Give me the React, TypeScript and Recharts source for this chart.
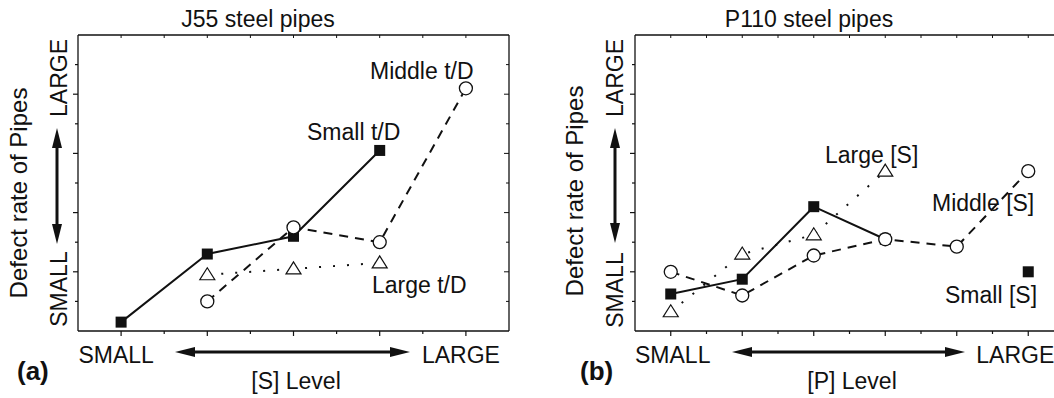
import React from 'react';
import { LineChart, Line, XAxis, YAxis } from 'recharts';

// ---------- data ----------
const leftCategories = [0, 1, 2, 3, 4];
const leftSmallTD = [0.3, 2.6, 3.2, 6.1, null];
const leftMiddleTD = [null, 1.0, 3.5, 3.0, 8.2];
const leftLargeTD = [null, 1.9, 2.1, 2.3, null];
const leftXTickLabels = ['SMALL', '', '', '', 'LARGE'];

const rightCategories = [0, 1, 2, 3, 4, 5];
const rightSmallS = [1.25, 1.75, 4.2, 3.1, null, 2.0];
const rightMiddleS = [2.0, 1.2, 2.55, 3.1, 2.85, 5.4];
const rightLargeS = [0.65, 2.6, 3.25, 5.4, null, null];
const rightXTickLabels = ['SMALL', '', '', '', '', 'LARGE'];

const yTicks = [1, 2, 3, 4, 5, 6, 7, 8, 9];

const leftData = leftCategories.map((x, i) => ({
  x,
  small: leftSmallTD[i],
  middle: leftMiddleTD[i],
  large: leftLargeTD[i],
}));
const rightData = rightCategories.map((x, i) => ({
  x,
  small: rightSmallS[i],
  middle: rightMiddleS[i],
  large: rightLargeS[i],
}));

const FONT = '"Liberation Sans", Arial, Helvetica, sans-serif';
const INK = '#111';

// ---------- markers ----------
const SquareDot = (p: any) => {
  const { cx, cy, index } = p;
  if (cx == null || cy == null || p.value == null) return <g key={`sq-${index}`} />;
  return <rect key={`sq-${index}`} x={cx - 5.5} y={cy - 5.5} width={11} height={11} fill={INK} />;
};
const CircleDot = (p: any) => {
  const { cx, cy, index } = p;
  if (cx == null || cy == null || p.value == null) return <g key={`ci-${index}`} />;
  return <circle key={`ci-${index}`} cx={cx} cy={cy} r={6.5} fill="#fff" stroke={INK} strokeWidth={1.3} />;
};
const TriDot = (p: any) => {
  const { cx, cy, index } = p;
  if (cx == null || cy == null || p.value == null) return <g key={`tr-${index}`} />;
  const pts = `${cx},${cy - 7} ${cx - 7.5},${cy + 5} ${cx + 7.5},${cy + 5}`;
  return <polygon key={`tr-${index}`} points={pts} fill="#fff" stroke={INK} strokeWidth={1.2} />;
};

// ---------- ticks ----------
const makeBottomTick = (labels: string[], dx: number[]) => (p: any) => {
  const { x, y, payload } = p;
  const v = payload.value;
  const major = Number.isInteger(v);
  const len = major ? 5 : 3;
  const label = major ? labels[v] : '';
  return (
    <g key={`bt-${v}`}>
      <line x1={x} y1={y} x2={x} y2={y + len} stroke={INK} strokeWidth={1.2} />
      {label ? (
        <text x={x + (dx[v] || 0)} y={y + 32} textAnchor="middle" fontSize={23} fontFamily={FONT} fill={INK}>
          {label}
        </text>
      ) : null}
    </g>
  );
};
const TopTick = (p: any) => {
  const { x, y, payload } = p;
  return <line key={`tt-${payload.value}`} x1={x} y1={y} x2={x} y2={y + 3} stroke={INK} strokeWidth={1} />;
};
const LeftTick = (p: any) => {
  const { x, y, payload } = p;
  const len = payload.value % 2 === 0 ? 5 : 3;
  return <line key={`lt-${payload.value}`} x1={x} y1={y} x2={x - len} y2={y} stroke={INK} strokeWidth={1.2} />;
};
const RightTick = (p: any) => {
  const { x, y, payload } = p;
  const len = payload.value % 2 === 0 ? 5 : 3;
  return <line key={`rt-${payload.value}`} x1={x} y1={y} x2={x - len} y2={y} stroke={INK} strokeWidth={1} />;
};

const halfSteps = (n: number) => {
  const out: number[] = [];
  for (let i = 0; i <= n * 2; i++) out.push(i / 2);
  return out;
};

function Panel(props: {
  data: any[];
  n: number;
  width: number;
  margin: any;
  labels: string[];
  dx: number[];
}) {
  const { data, n, width, margin, labels, dx } = props;
  const dom: [number, number] = [-0.5, n - 0.5];
  return (
    <LineChart width={width} height={398} data={data} margin={margin}>
      <XAxis
        xAxisId="b"
        dataKey="x"
        type="number"
        domain={dom}
        allowDataOverflow
        ticks={halfSteps(n - 1)}
        interval={0}
        height={1}
        tickSize={0}
        tickMargin={0}
        tickLine={false}
        axisLine={{ stroke: INK, strokeWidth: 1.3 }}
        tick={makeBottomTick(labels, dx)}
      />
      <XAxis
        xAxisId="t"
        dataKey="x"
        type="number"
        orientation="top"
        mirror
        domain={dom}
        allowDataOverflow
        ticks={halfSteps(n - 1)}
        interval={0}
        height={1}
        tickSize={0}
        tickMargin={0}
        tickLine={false}
        axisLine={{ stroke: INK, strokeWidth: 1.3 }}
        tick={TopTick}
      />
      <YAxis
        yAxisId="l"
        type="number"
        domain={[0, 10]}
        allowDataOverflow
        ticks={yTicks}
        interval={0}
        width={1}
        tickSize={0}
        tickMargin={0}
        tickLine={false}
        axisLine={{ stroke: INK, strokeWidth: 1.3 }}
        tick={LeftTick}
      />
      <YAxis
        yAxisId="r"
        type="number"
        orientation="right"
        mirror
        domain={[0, 10]}
        allowDataOverflow
        ticks={yTicks}
        interval={0}
        width={1}
        tickSize={0}
        tickMargin={0}
        tickLine={false}
        axisLine={{ stroke: INK, strokeWidth: 1.3 }}
        tick={RightTick}
      />
      <Line
        xAxisId="b"
        yAxisId="l"
        dataKey="small"
        stroke={INK}
        strokeWidth={2}
        dot={SquareDot}
        activeDot={false}
        isAnimationActive={false}
        connectNulls={false}
      />
      <Line
        xAxisId="b"
        yAxisId="l"
        dataKey="large"
        stroke={INK}
        strokeWidth={2}
        strokeDasharray="2 12"
        dot={TriDot}
        activeDot={false}
        isAnimationActive={false}
        connectNulls={false}
      />
      <Line
        xAxisId="b"
        yAxisId="l"
        dataKey="middle"
        stroke={INK}
        strokeWidth={2}
        strokeDasharray="9 7"
        dot={CircleDot}
        activeDot={false}
        isAnimationActive={false}
        connectNulls={false}
      />
    </LineChart>
  );
}

const HArrow = ({ x1, x2, y }: { x1: number; x2: number; y: number }) => (
  <g>
    <line x1={x1 + 14} y1={y} x2={x2 - 14} y2={y} stroke={INK} strokeWidth={3} />
    <polygon points={`${x1},${y} ${x1 + 20},${y - 5} ${x1 + 20},${y + 5}`} fill={INK} />
    <polygon points={`${x2},${y} ${x2 - 20},${y - 5} ${x2 - 20},${y + 5}`} fill={INK} />
  </g>
);
const VArrow = ({ x, y1, y2 }: { x: number; y1: number; y2: number }) => (
  <g>
    <line x1={x} y1={y1 + 14} x2={x} y2={y2 - 14} stroke={INK} strokeWidth={3} />
    <polygon points={`${x},${y1} ${x - 5},${y1 + 20} ${x + 5},${y1 + 20}`} fill={INK} />
    <polygon points={`${x},${y2} ${x - 5},${y2 - 20} ${x + 5},${y2 - 20}`} fill={INK} />
  </g>
);

const T = (p: any) => (
  <text fontFamily={FONT} fontSize={23} fill={INK} {...p} />
);
const RT = ({ x, y, size, children }: any) => (
  <text
    x={x}
    y={y}
    transform={`rotate(-90, ${x}, ${y})`}
    textAnchor="middle"
    fontFamily={FONT}
    fontSize={size || 23}
    fill={INK}
  >
    {children}
  </text>
);

export default function App() {
  return (
    <div
      style={{
        position: 'absolute',
        left: 0,
        top: 0,
        width: 1054,
        height: 398,
        overflow: 'hidden',
        background: '#fff',
      }}
    >
      <div style={{ position: 'absolute', left: 0, top: 0 }}>
        <Panel
          data={leftData}
          n={5}
          width={530}
          margin={{ top: 35, left: 77, right: 21, bottom: 66 }}
          labels={leftXTickLabels}
          dx={[-5, 0, 0, 0, -5]}
        />
      </div>
      <div style={{ position: 'absolute', left: 530, top: 0 }}>
        <Panel
          data={rightData}
          n={6}
          width={560}
          margin={{ top: 35, left: 104, right: 26, bottom: 66 }}
          labels={rightXTickLabels}
          dx={[2, 0, 0, 0, 0, -13]}
        />
      </div>
      <svg
        width={1054}
        height={398}
        style={{ position: 'absolute', left: 0, top: 0, pointerEvents: 'none' }}
      >
        {/* titles */}
        <T x={258} y={27} textAnchor="middle">J55 steel pipes</T>
        <T x={809} y={27} textAnchor="middle">P110 steel pipes</T>

        {/* series labels left */}
        <T x={370} y={79}>Middle t/D</T>
        <T x={307} y={140}>Small t/D</T>
        <T x={372} y={293}>Large t/D</T>

        {/* series labels right */}
        <T x={825} y={163}>Large [S]</T>
        <T x={932} y={211}>Middle [S]</T>
        <T x={945} y={303}>Small [S]</T>

        {/* x axis titles */}
        <T x={296} y={389} textAnchor="middle">[S] Level</T>
        <T x={852} y={389} textAnchor="middle">[P] Level</T>
        <HArrow x1={175} x2={410} y={352} />
        <HArrow x1={732} x2={965} y={352} />

        {/* panel letters */}
        <text x={17} y={380} fontFamily={FONT} fontSize={26} fontWeight="bold" fill={INK}>(a)</text>
        <text x={580} y={380} fontFamily={FONT} fontSize={26} fontWeight="bold" fill={INK}>(b)</text>

        {/* y axis titles */}
        <RT x={27} y={193} size={24}>Defect rate of Pipes</RT>
        <RT x={67} y={78}>LARGE</RT>
        <RT x={67} y={289}>SMALL</RT>
        <VArrow x={57} y1={128} y2={244} />

        <RT x={583} y={191} size={24}>Defect rate of Pipes</RT>
        <RT x={623} y={78}>LARGE</RT>
        <RT x={623} y={290}>SMALL</RT>
        <VArrow x={615} y1={128} y2={243} />
      </svg>
    </div>
  );
}
